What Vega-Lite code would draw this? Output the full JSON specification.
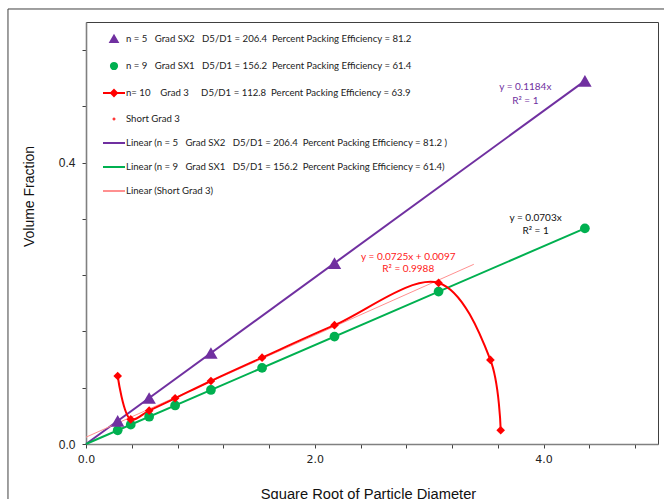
{
  "$schema": "https://vega.github.io/schema/vega-lite/v6.json",
  "width": 572,
  "height": 422,
  "autosize": "none",
  "padding": {"left": 86, "top": 22, "right": 6, "bottom": 55},
  "background": "white",
  "config": {
    "view": {"stroke": "#404040", "strokeWidth": 1},
    "legend": {"labelFont": "Lato", "labelFontSize": 9.6, "labelColor": "#222", "labelLimit": 600}
  },
  "datasets": {
    "pts": [
      {"series": "n = 5\u00a0\u00a0 Grad SX2\u00a0\u00a0 D5/D1 = 206.4\u00a0 Percent Packing Efficiency = 81.2", "x": 0.277, "y": 0.0328},
      {"series": "n = 5\u00a0\u00a0 Grad SX2\u00a0\u00a0 D5/D1 = 206.4\u00a0 Percent Packing Efficiency = 81.2", "x": 0.552, "y": 0.0654},
      {"series": "n = 5\u00a0\u00a0 Grad SX2\u00a0\u00a0 D5/D1 = 206.4\u00a0 Percent Packing Efficiency = 81.2", "x": 1.092, "y": 0.1293},
      {"series": "n = 5\u00a0\u00a0 Grad SX2\u00a0\u00a0 D5/D1 = 206.4\u00a0 Percent Packing Efficiency = 81.2", "x": 2.172, "y": 0.2572},
      {"series": "n = 5\u00a0\u00a0 Grad SX2\u00a0\u00a0 D5/D1 = 206.4\u00a0 Percent Packing Efficiency = 81.2", "x": 4.361, "y": 0.5163},
      {"series": "n = 9\u00a0\u00a0 Grad SX1\u00a0\u00a0 D5/D1 = 156.2\u00a0 Percent Packing Efficiency = 61.4", "x": 0.277, "y": 0.0195},
      {"series": "n = 9\u00a0\u00a0 Grad SX1\u00a0\u00a0 D5/D1 = 156.2\u00a0 Percent Packing Efficiency = 61.4", "x": 0.391, "y": 0.0275},
      {"series": "n = 9\u00a0\u00a0 Grad SX1\u00a0\u00a0 D5/D1 = 156.2\u00a0 Percent Packing Efficiency = 61.4", "x": 0.552, "y": 0.0388},
      {"series": "n = 9\u00a0\u00a0 Grad SX1\u00a0\u00a0 D5/D1 = 156.2\u00a0 Percent Packing Efficiency = 61.4", "x": 0.779, "y": 0.0548},
      {"series": "n = 9\u00a0\u00a0 Grad SX1\u00a0\u00a0 D5/D1 = 156.2\u00a0 Percent Packing Efficiency = 61.4", "x": 1.092, "y": 0.0768},
      {"series": "n = 9\u00a0\u00a0 Grad SX1\u00a0\u00a0 D5/D1 = 156.2\u00a0 Percent Packing Efficiency = 61.4", "x": 1.539, "y": 0.1082},
      {"series": "n = 9\u00a0\u00a0 Grad SX1\u00a0\u00a0 D5/D1 = 156.2\u00a0 Percent Packing Efficiency = 61.4", "x": 2.172, "y": 0.1527},
      {"series": "n = 9\u00a0\u00a0 Grad SX1\u00a0\u00a0 D5/D1 = 156.2\u00a0 Percent Packing Efficiency = 61.4", "x": 3.082, "y": 0.2167},
      {"series": "n = 9\u00a0\u00a0 Grad SX1\u00a0\u00a0 D5/D1 = 156.2\u00a0 Percent Packing Efficiency = 61.4", "x": 4.361, "y": 0.3066},
      {"series": "n= 10\u00a0\u00a0\u00a0 Grad 3\u00a0\u00a0\u00a0\u00a0 D5/D1 = 112.8\u00a0 Percent Packing Efficiency = 63.9", "x": 0.277, "y": 0.0967},
      {"series": "n= 10\u00a0\u00a0\u00a0 Grad 3\u00a0\u00a0\u00a0\u00a0 D5/D1 = 112.8\u00a0 Percent Packing Efficiency = 63.9", "x": 0.391, "y": 0.035},
      {"series": "n= 10\u00a0\u00a0\u00a0 Grad 3\u00a0\u00a0\u00a0\u00a0 D5/D1 = 112.8\u00a0 Percent Packing Efficiency = 63.9", "x": 0.552, "y": 0.0474},
      {"series": "n= 10\u00a0\u00a0\u00a0 Grad 3\u00a0\u00a0\u00a0\u00a0 D5/D1 = 112.8\u00a0 Percent Packing Efficiency = 63.9", "x": 0.779, "y": 0.065},
      {"series": "n= 10\u00a0\u00a0\u00a0 Grad 3\u00a0\u00a0\u00a0\u00a0 D5/D1 = 112.8\u00a0 Percent Packing Efficiency = 63.9", "x": 1.092, "y": 0.0896},
      {"series": "n= 10\u00a0\u00a0\u00a0 Grad 3\u00a0\u00a0\u00a0\u00a0 D5/D1 = 112.8\u00a0 Percent Packing Efficiency = 63.9", "x": 1.539, "y": 0.1228},
      {"series": "n= 10\u00a0\u00a0\u00a0 Grad 3\u00a0\u00a0\u00a0\u00a0 D5/D1 = 112.8\u00a0 Percent Packing Efficiency = 63.9", "x": 2.172, "y": 0.169},
      {"series": "n= 10\u00a0\u00a0\u00a0 Grad 3\u00a0\u00a0\u00a0\u00a0 D5/D1 = 112.8\u00a0 Percent Packing Efficiency = 63.9", "x": 3.082, "y": 0.229},
      {"series": "n= 10\u00a0\u00a0\u00a0 Grad 3\u00a0\u00a0\u00a0\u00a0 D5/D1 = 112.8\u00a0 Percent Packing Efficiency = 63.9", "x": 3.535, "y": 0.1195},
      {"series": "n= 10\u00a0\u00a0\u00a0 Grad 3\u00a0\u00a0\u00a0\u00a0 D5/D1 = 112.8\u00a0 Percent Packing Efficiency = 63.9", "x": 3.625, "y": 0.0195},
      {"series": "Short Grad 3", "x": 0.391, "y": 0.035},
      {"series": "Short Grad 3", "x": 0.552, "y": 0.0474},
      {"series": "Short Grad 3", "x": 0.779, "y": 0.065},
      {"series": "Short Grad 3", "x": 1.092, "y": 0.0896},
      {"series": "Short Grad 3", "x": 1.539, "y": 0.1228},
      {"series": "Short Grad 3", "x": 2.172, "y": 0.169},
      {"series": "Short Grad 3", "x": 3.082, "y": 0.229}
    ],
    "fits": [
      {"series": "Linear (n = 5\u00a0\u00a0 Grad SX2\u00a0\u00a0 D5/D1 = 206.4\u00a0 Percent Packing Efficiency = 81.2 )", "x": 0, "y": 0},
      {"series": "Linear (n = 5\u00a0\u00a0 Grad SX2\u00a0\u00a0 D5/D1 = 206.4\u00a0 Percent Packing Efficiency = 81.2 )", "x": 4.361, "y": 0.5163},
      {"series": "Linear (n = 9\u00a0\u00a0 Grad SX1\u00a0\u00a0 D5/D1 = 156.2\u00a0 Percent Packing Efficiency = 61.4)", "x": 0, "y": 0},
      {"series": "Linear (n = 9\u00a0\u00a0 Grad SX1\u00a0\u00a0 D5/D1 = 156.2\u00a0 Percent Packing Efficiency = 61.4)", "x": 4.361, "y": 0.3066},
      {"series": "Linear (Short Grad 3)", "x": 0, "y": 0.0097},
      {"series": "Linear (Short Grad 3)", "x": 3.39, "y": 0.2555}
    ]
  },
  "layer": [
    {
      "data": {"name": "fits"},
      "mark": {"type": "line"},
      "encoding": {
        "x": {
          "field": "x", "type": "quantitative",
          "scale": {"domain": [0, 5], "nice": false, "zero": false},
          "axis": {
            "values": [0,0.1,0.2,0.3,0.4,0.5,0.6,0.7,0.8,0.9,1,1.1,1.2,1.3,1.4,1.5,1.6,1.7,1.8,1.9,2,2.1,2.2,2.3,2.4,2.5,2.6,2.7,2.8,2.9,3,3.1,3.2,3.3,3.4,3.5,3.6,3.7,3.8,3.9,4,4.1,4.2,4.3,4.4,4.5,4.6,4.7,4.8,4.9,5],
            "labelExpr": "abs(datum.value*2-round(datum.value*2))<0.001 ? format(datum.value,'.1f') : ''",
            "tickSize": 4,
            "labelOverlap": false, "labelFlush": false, "labelPadding": 5,
            "labelFont": "DejaVu Sans", "labelFontSize": 11, "labelColor": "#222",
            "domainColor": "#808080", "domainWidth": 1.6, "tickColor": "#404040", "tickWidth": 1,
            "grid": false,
            "title": "Square Root of Particle Diameter",
            "titleFont": "Liberation Sans", "titleFontSize": 14.7, "titleFontWeight": "normal", "titleColor": "#111",
            "titleX": 282, "titleY": 54, "titleBaseline": "alphabetic", "titleAnchor": "middle"
          }
        },
        "y": {
          "field": "y", "type": "quantitative",
          "scale": {"domain": [0, 0.6], "nice": false, "zero": false},
          "axis": {
            "values": [0,0.02,0.04,0.06,0.08,0.1,0.12,0.14,0.16,0.18,0.2,0.22,0.24,0.26,0.28,0.3,0.32,0.34,0.36,0.38,0.4,0.42,0.44,0.46,0.48,0.5,0.52,0.54,0.56,0.58,0.6],
            "labelExpr": "abs(datum.value*10-round(datum.value*10))<0.001 ? format(datum.value,'.1f') : ''",
            "tickSize": 4,
            "labelOverlap": false, "labelFlush": false, "labelPadding": 7,
            "labelFont": "Liberation Sans", "labelFontSize": 12, "labelColor": "#222",
            "domainColor": "#808080", "domainWidth": 1.6, "tickColor": "#404040", "tickWidth": 1,
            "grid": false,
            "title": "Volume Fraction",
            "titleFont": "Liberation Sans", "titleFontSize": 14, "titleFontWeight": "normal", "titleColor": "#111",
            "titleX": -57, "titleY": 174, "titleAngle": 270, "titleBaseline": "middle", "titleAlign": "center"
          }
        },
        "detail": {"field": "series"},
        "color": {
          "field": "series", "type": "nominal",
          "scale": {
            "domain": [
              "n = 5\u00a0\u00a0 Grad SX2\u00a0\u00a0 D5/D1 = 206.4\u00a0 Percent Packing Efficiency = 81.2",
              "n = 9\u00a0\u00a0 Grad SX1\u00a0\u00a0 D5/D1 = 156.2\u00a0 Percent Packing Efficiency = 61.4",
              "n= 10\u00a0\u00a0\u00a0 Grad 3\u00a0\u00a0\u00a0\u00a0 D5/D1 = 112.8\u00a0 Percent Packing Efficiency = 63.9",
              "Short Grad 3",
              "Linear (n = 5\u00a0\u00a0 Grad SX2\u00a0\u00a0 D5/D1 = 206.4\u00a0 Percent Packing Efficiency = 81.2 )",
              "Linear (n = 9\u00a0\u00a0 Grad SX1\u00a0\u00a0 D5/D1 = 156.2\u00a0 Percent Packing Efficiency = 61.4)",
              "Linear (Short Grad 3)"
            ],
            "range": ["#7030A0", "#00B050", "#FF0000", "#FF0000", "#7030A0", "#00B050", "#FF9090"]
          },
          "legend": {
            "orient": "none", "legendX": 16, "legendY": 5, "title": null, "padding": 0,
            "symbolSize": 484, "symbolStrokeWidth": 2, "rowPadding": 7, "labelOffset": 0,
            "labelFont": "Lato", "labelFontSize": 9.6, "labelColor": "#222", "labelLimit": 600
          }
        },
        "strokeWidth": {"condition": {"test": "datum.series == 'Linear (Short Grad 3)'", "value": 1}, "value": 2}
      }
    },
    {
      "data": {"values": [{"frame": "chart area"}]},
      "mark": {"type": "rect", "fillOpacity": 0, "stroke": "#404040", "strokeWidth": 1},
      "encoding": {
        "x": {"datum": -0.682, "type": "quantitative"},
        "x2": {"datum": 5.4},
        "y": {"datum": 0.6185, "type": "quantitative"},
        "y2": {"datum": -0.3}
      }
    },
    {
      "data": {"name": "pts"},
      "transform": [{"filter": "indexof(datum.series, 'n= 10') == 0"}],
      "mark": {"type": "line", "interpolate": "catmull-rom", "strokeWidth": 2},
      "encoding": {
        "x": {"field": "x", "type": "quantitative"},
        "y": {"field": "y", "type": "quantitative"},
        "color": {"field": "series", "type": "nominal", "legend": null}
      }
    },
    {
      "data": {"name": "pts"},
      "transform": [{"filter": "indexof(datum.series, 'Grad SX1') >= 0"}],
      "mark": {"type": "point", "shape": "circle", "size": 95, "filled": true, "opacity": 1, "strokeWidth": 0},
      "encoding": {
        "x": {"field": "x", "type": "quantitative"},
        "y": {"field": "y", "type": "quantitative"},
        "color": {"field": "series", "type": "nominal", "legend": null}
      }
    },
    {
      "data": {"name": "pts"},
      "transform": [{"filter": "indexof(datum.series, 'n= 10') == 0"}],
      "mark": {"type": "point", "shape": "diamond", "size": 75, "filled": true, "opacity": 1, "strokeWidth": 0},
      "encoding": {
        "x": {"field": "x", "type": "quantitative"},
        "y": {"field": "y", "type": "quantitative"},
        "color": {"field": "series", "type": "nominal", "legend": null}
      }
    },
    {
      "data": {"name": "pts"},
      "transform": [{"filter": "datum.series == 'Short Grad 3'"}],
      "mark": {"type": "point", "size": 100, "filled": true, "opacity": 1, "strokeWidth": 0},
      "encoding": {
        "x": {"field": "x", "type": "quantitative"},
        "y": {"field": "y", "type": "quantitative"},
        "color": {
          "field": "series", "type": "nominal",
          "legend": {
            "orient": "none", "legendX": 16, "legendY": 5, "title": null, "padding": 0,
            "symbolSize": 484, "symbolStrokeWidth": 2, "rowPadding": 7, "labelOffset": 0,
            "labelFont": "Lato", "labelFontSize": 9.6, "labelColor": "#222", "labelLimit": 600
          }
        },
        "shape": {
          "field": "series", "type": "nominal",
          "scale": {
            "domain": [
              "n = 5\u00a0\u00a0 Grad SX2\u00a0\u00a0 D5/D1 = 206.4\u00a0 Percent Packing Efficiency = 81.2",
              "n = 9\u00a0\u00a0 Grad SX1\u00a0\u00a0 D5/D1 = 156.2\u00a0 Percent Packing Efficiency = 61.4",
              "n= 10\u00a0\u00a0\u00a0 Grad 3\u00a0\u00a0\u00a0\u00a0 D5/D1 = 112.8\u00a0 Percent Packing Efficiency = 63.9",
              "Short Grad 3",
              "Linear (n = 5\u00a0\u00a0 Grad SX2\u00a0\u00a0 D5/D1 = 206.4\u00a0 Percent Packing Efficiency = 81.2 )",
              "Linear (n = 9\u00a0\u00a0 Grad SX1\u00a0\u00a0 D5/D1 = 156.2\u00a0 Percent Packing Efficiency = 61.4)",
              "Linear (Short Grad 3)"
            ],
            "range": [
              "M0,-0.3L0.33,0.28L-0.33,0.28Z",
              "M-0.28,0A0.28,0.28,0,1,1,0.28,0A0.28,0.28,0,1,1,-0.28,0Z",
              "M-1,0L1,0M0,-0.27L0.27,0L0,0.27L-0.27,0Z",
              "M-0.04,0A0.04,0.04,0,1,1,0.04,0A0.04,0.04,0,1,1,-0.04,0Z",
              "M-1,0L1,0",
              "M-1,0L1,0",
              "M-1,0L1,0"
            ]
          },
          "legend": {
            "orient": "none", "legendX": 16, "legendY": 5, "title": null, "padding": 0,
            "symbolSize": 484, "symbolStrokeWidth": 2, "rowPadding": 7, "labelOffset": 0,
            "labelFont": "Lato", "labelFontSize": 9.6, "labelColor": "#222", "labelLimit": 600
          }
        }
      }
    },
    {
      "data": {"name": "pts"},
      "transform": [{"filter": "indexof(datum.series, 'Grad SX2') >= 0"}],
      "mark": {"type": "point", "shape": "triangle-up", "size": 180, "filled": true, "opacity": 1, "strokeWidth": 0},
      "encoding": {
        "x": {"field": "x", "type": "quantitative"},
        "y": {"field": "y", "type": "quantitative"},
        "color": {"field": "series", "type": "nominal", "legend": null}
      }
    },
    {
      "data": {"values": [
        {"x": 3.84, "y": 0.507, "label": "y = 0.1184x"},
        {"x": 3.84, "y": 0.488, "label": "R² = 1"}
      ]},
      "mark": {"type": "text", "font": "Lato", "fontSize": 10, "color": "#7030A0", "align": "center", "baseline": "middle"},
      "encoding": {
        "x": {"field": "x", "type": "quantitative"},
        "y": {"field": "y", "type": "quantitative"},
        "text": {"field": "label"}
      }
    },
    {
      "data": {"values": [
        {"x": 3.93, "y": 0.3209, "label": "y = 0.0703x"},
        {"x": 3.93, "y": 0.3033, "label": "R² = 1"}
      ]},
      "mark": {"type": "text", "font": "Lato", "fontSize": 10, "color": "#111", "align": "center", "baseline": "middle"},
      "encoding": {
        "x": {"field": "x", "type": "quantitative"},
        "y": {"field": "y", "type": "quantitative"},
        "text": {"field": "label"}
      }
    },
    {
      "data": {"values": [
        {"x": 2.817, "y": 0.2655, "label": "y = 0.0725x + 0.0097"},
        {"x": 2.817, "y": 0.2484, "label": "R² = 0.9988"}
      ]},
      "mark": {"type": "text", "font": "Lato", "fontSize": 10, "color": "#FF2020", "align": "center", "baseline": "middle"},
      "encoding": {
        "x": {"field": "x", "type": "quantitative"},
        "y": {"field": "y", "type": "quantitative"},
        "text": {"field": "label"}
      }
    }
  ]
}
